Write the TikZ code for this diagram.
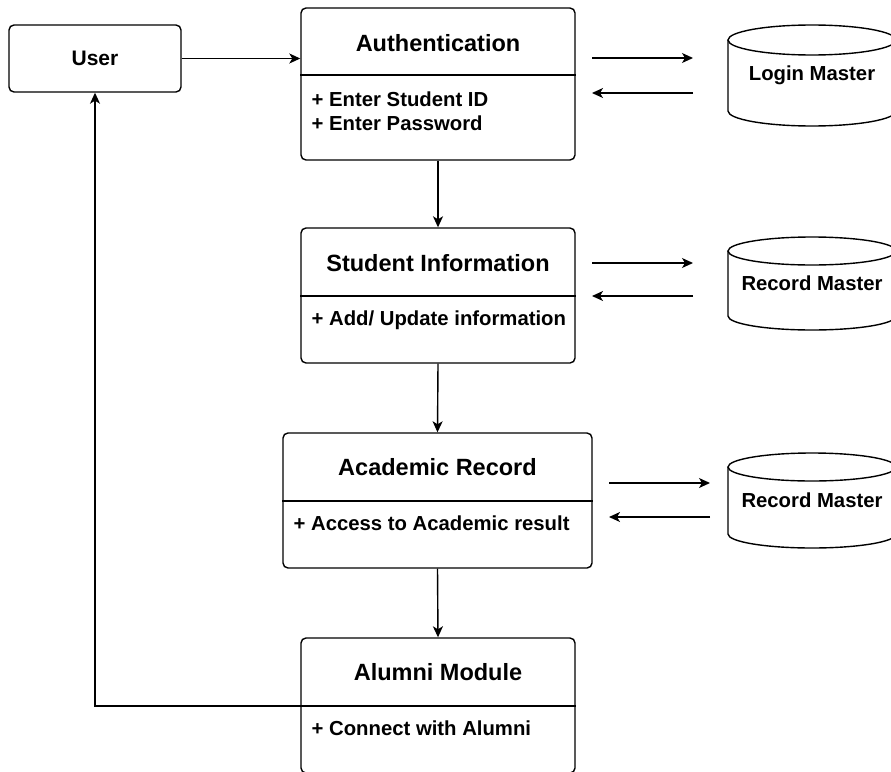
\documentclass[tikz,border=0pt]{standalone}
\usepackage{fontspec}
\setmainfont{Liberation Sans}
\usetikzlibrary{arrows.meta}
\begin{document}
\begin{tikzpicture}[x=1pt,y=-1pt, line width=1.4pt,
  box/.style={draw, rounded corners=5pt, line width=1.4pt, fill=white, inner sep=0pt},
  ttl/.style={font=\fontsize{23.5}{27}\selectfont\bfseries, inner sep=0pt},
  usr/.style={font=\fontsize{21}{25}\selectfont\bfseries, inner sep=0pt},
  itm/.style={font=\fontsize{20.3}{24}\selectfont\bfseries, inner sep=0pt, anchor=west},
  dbl/.style={font=\fontsize{20.3}{24}\selectfont\bfseries, inner sep=0pt},
  arr/.style={-{Stealth[length=11pt,width=10pt,inset=3pt]}, line width=1.4pt}]
\useasboundingbox (0,0) rectangle (891,771);
\clip (0,0) rectangle (891,771);
\fill[white] (0,0) rectangle (891,771);

% cylinders
\newcommand{\dbcyl}[4]{% cx, top, bottom, ry
  \draw[fill=white] ({#1-84},{#2+#4}) -- ({#1-84},{#3-#4})
     arc[start angle=180, end angle=0, x radius=84, y radius=#4]
     -- ({#1+84},{#2+#4});
  \draw ({#1},{#2+#4}) ellipse[x radius=84, y radius=#4];
}
\dbcyl{812}{25}{126}{15}
\dbcyl{812}{237}{330}{14}
\dbcyl{812}{453}{548}{14}
\node[dbl] (login) at (812,75) {Login Master};
\node[dbl] (rec1) at (812,283) {Record Master};
\node[dbl] (rec2) at (812,500) {Record Master};

% boxes
\node[box, minimum width=172pt, minimum height=67pt] (user) at (95,58.5) {};
\node[usr] (userT) at (95,58.5) {User};

\node[box, minimum width=274pt, minimum height=152pt] (auth) at (438,84) {};
\draw (auth.west |- 0,75) -- (auth.east |- 0,75);
\node[ttl] (authT) at (438,43) {Authentication};
\node[itm] (authI1) at (311,99) {+ Enter Student ID};
\node[itm] (authI2) at (311,123) {+ Enter Password};

\node[box, minimum width=274pt, minimum height=135pt] (stud) at (438,295.5) {};
\draw (stud.west |- 0,296) -- (stud.east |- 0,296);
\node[ttl] (studT) at (438,263) {Student Information};
\node[itm] (studI) at (311,320) {+ Add/ Update information};

\node[box, minimum width=309pt, minimum height=135pt] (acad) at (437.5,500.5) {};
\draw (acad.west |- 0,501) -- (acad.east |- 0,501);
\node[ttl] (acadT) at (437.5,467) {Academic Record};
\node[itm] (acadI) at (293,523) {+ Access to Academic result};

\node[box, minimum width=274pt, minimum height=135pt] (alum) at (438,705.5) {};
\draw (alum.west |- 0,706) -- (alum.east |- 0,706);
\node[ttl] (alumT) at (438,672) {Alumni Module};
\node[itm] (alumI) at (311,728) {+ Connect with Alumni};

% connectors
\draw[arr] (user.east) -- (user.east -| auth.west);
\draw[arr] (auth.south) -- (stud.north);
\draw[arr] (stud.south) -- (acad.north);
\draw[arr] (acad.south) -- (alum.north);
\coordinate (fb) at (301,706);
\draw[arr] (fb) -| (user.south);

\coordinate (a1) at (592,58);  \coordinate (b1) at (693,58);
\coordinate (a2) at (693,93);  \coordinate (b2) at (592,93);
\coordinate (c1) at (592,263); \coordinate (d1) at (693,263);
\coordinate (c2) at (693,296); \coordinate (d2) at (592,296);
\coordinate (e1) at (609,483); \coordinate (f1) at (710,483);
\coordinate (e2) at (710,517); \coordinate (f2) at (609,517);
\draw[arr] (a1) -- (b1);
\draw[arr] (a2) -- (b2);
\draw[arr] (c1) -- (d1);
\draw[arr] (c2) -- (d2);
\draw[arr] (e1) -- (f1);
\draw[arr] (e2) -- (f2);
\end{tikzpicture}
\end{document}
